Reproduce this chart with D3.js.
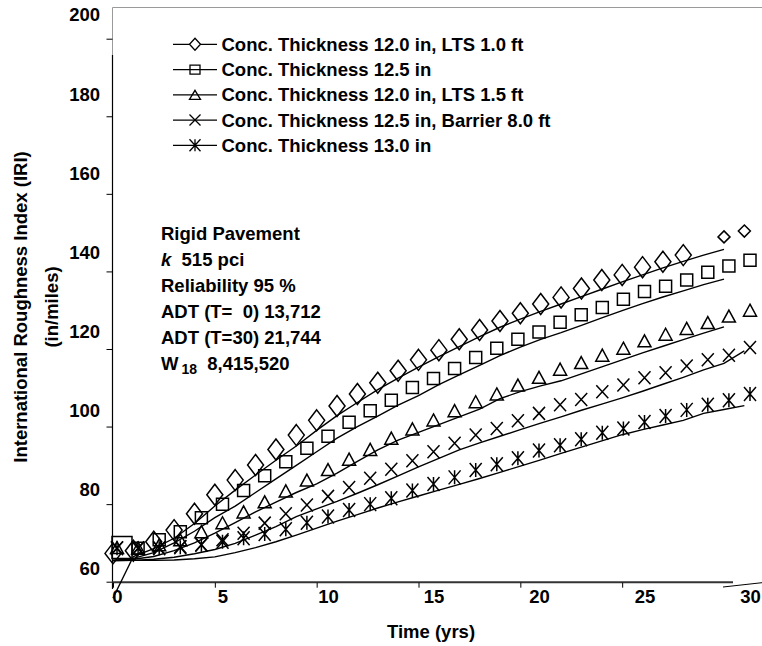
<!DOCTYPE html>
<html>
<head>
<meta charset="utf-8">
<script src="https://cdn.jsdelivr.net/npm/d3@7"></script>
<style>
  body { margin: 0; background: #fff; }
  svg text { font-family: "Liberation Sans", Arial, Helvetica, sans-serif; font-weight: bold; fill: #000; font-size: 18.5px; }
</style>
</head>
<body>
<svg id="chart" width="762" height="646"></svg>
<script>
// ---- data: IRI (in/mile) by pavement age (yrs) ----
const seriesNames = [
  "Conc. Thickness 12.0 in, LTS 1.0 ft",
  "Conc. Thickness 12.5 in",
  "Conc. Thickness 12.0 in, LTS 1.5 ft",
  "Conc. Thickness 12.5 in, Barrier 8.0 ft",
  "Conc. Thickness 13.0 in"
];

const years = d3.range(0, 31);                       // 0 .. 30
const yearsExt = d3.range(0, 32);                    // 0 .. 31
const diamondYears = [...d3.range(0, 29), 30, 31];

// plotted points
const diamondIRI = [67.3, 68.0, 70.3, 73.3, 77.5, 82.4, 86.2, 90.1, 94.1, 97.8, 101.6, 105.3, 108.4, 111.3, 114.4, 117.2,
  119.7, 122.5, 124.9, 127.2, 129.2, 131.6, 133.3, 135.6, 137.8, 139.1, 141.1, 142.5, 144.2, 148.9, 150.4];
const squareIRI = [68.8, 68.6, 70.8, 72.9, 76.5, 80.0, 83.5, 87.3, 90.9, 94.4, 97.5, 101.1, 104.1, 106.8, 110.1, 112.4,
  115.0, 117.8, 120.2, 122.5, 124.4, 126.9, 128.8, 130.7, 132.8, 134.8, 136.2, 137.8, 139.8, 141.4, 142.9];
const triangleIRI = [68.8, 68.7, 69.5, 70.8, 72.9, 75.2, 78.0, 80.6, 83.4, 86.2, 88.9, 91.6, 94.1, 97.0, 99.4, 101.7,
  104.1, 106.4, 108.4, 110.7, 112.7, 114.8, 116.5, 118.4, 120.2, 122.1, 123.8, 125.3, 126.8, 128.5, 130.0];
const crossIRI = [68.7, 68.6, 68.7, 69.0, 69.5, 70.8, 72.5, 75.1, 77.5, 79.8, 82.0, 84.3, 86.7, 89.0, 91.2, 93.5,
  95.7, 97.8, 99.5, 101.5, 103.4, 105.6, 107.0, 109.0, 110.7, 112.6, 113.9, 115.6, 117.2, 118.4, 120.4];
const starIRI = [68.6, 68.6, 68.6, 68.9, 69.5, 70.3, 71.2, 72.3, 73.5, 75.2, 76.8, 78.5, 80.0, 81.5, 83.5, 85.2,
  86.9, 88.8, 90.3, 91.8, 93.8, 95.2, 96.7, 98.4, 99.5, 101.2, 102.7, 104.3, 105.6, 106.8, 108.4];

// predicted curves
const diamondFit = [55.8, 66.5, 68.5, 71.2, 75.0, 79.5, 83.6, 87.5, 91.3, 95.0, 99.0, 102.8, 106.2, 109.5, 112.5, 115.3,
  118.0, 120.6, 123.2, 125.6, 127.7, 129.7, 131.6, 133.5, 135.4, 137.3, 139.1, 140.9, 142.6, 144.2, 145.7];
const squareFit = [65.5, 66.0, 67.5, 70.0, 73.0, 76.5, 79.5, 83.0, 86.5, 90.0, 93.5, 97.0, 100.0, 102.7, 105.5, 108.0,
  110.8, 113.3, 115.8, 118.3, 120.5, 122.5, 124.2, 126.1, 128.0, 129.9, 131.7, 133.4, 135.0, 136.6, 138.0];
const triangleFit = [65.5, 65.8, 66.5, 68.0, 70.0, 72.5, 75.2, 78.0, 80.5, 83.0, 85.2, 88.0, 91.0, 94.0, 96.5, 98.5,
  100.5, 102.5, 104.5, 107.2, 109.0, 110.5, 111.8, 113.6, 115.4, 117.2, 119.0, 120.7, 122.4, 124.1, 125.7];
const crossFit = [65.4, 65.5, 65.8, 66.3, 67.2, 68.3, 69.9, 72.0, 74.2, 76.8, 78.8, 80.7, 82.8, 85.0, 87.3, 89.6,
  91.8, 94.0, 95.8, 97.5, 99.2, 100.9, 102.5, 104.2, 105.8, 107.4, 109.1, 110.9, 112.7, 114.6, 116.3, 119.5];
const starFit = [65.5, 65.5, 65.5, 65.6, 65.9, 66.4, 67.5, 68.8, 70.3, 72.0, 73.8, 75.6, 77.3, 79.0, 80.6, 82.1,
  83.6, 85.1, 86.6, 88.2, 89.8, 91.4, 93.1, 94.7, 96.3, 97.9, 99.2, 100.4, 101.6, 103.4, 104.4, 105.4];

const xTicks = [0, 5, 10, 15, 20, 25, 30];
const yTicks = [60, 80, 100, 120, 140, 160, 180, 200];

const infoLines = ["Rigid Pavement", "k", "Reliability 95 %", "ADT (T=  0) 13,712", "ADT (T=30) 21,744", "W"];

// ---- scales ----
const x = d3.scaleLinear().domain([0, 30]).range([113, 724]);       // frame / curves
const y = d3.scaleLinear().domain([60, 200]).range([581.7, 38.7]);
const xMark = d3.scaleLinear().domain([0, 30]).range([117, 750]);   // point symbols and tick labels
const yText = d3.scaleLinear().domain([60, 200]).range([568.7, 15]);

const svg = d3.select("#chart");

// ---- frame ----
svg.append("line").attr("x1", 112.5).attr("x2", 762).attr("y1", 7.5).attr("y2", 7.5)
  .attr("stroke", "#9a9a9a").attr("stroke-width", 1);
svg.append("line").attr("x1", 112.5).attr("x2", 112.5).attr("y1", 7.5).attr("y2", 56)
  .attr("stroke", "#9a9a9a").attr("stroke-width", 1);
svg.append("line").attr("x1", 112.5).attr("x2", 112.5).attr("y1", 55).attr("y2", 589)
  .attr("stroke", "#000").attr("stroke-width", 1.2);
svg.append("line").attr("x1", 112).attr("x2", 733).attr("y1", y(60) + 0.5).attr("y2", y(60) + 0.5)
  .attr("stroke", "#333").attr("stroke-width", 2);
// short slanted end cap past the last tick
svg.append("line").attr("x1", x(30) - 1).attr("x2", 762).attr("y1", y(60) + 5.3).attr("y2", y(60) + 1)
  .attr("stroke", "#000").attr("stroke-width", 1);

// tick marks
const yTickAxis = svg.append("g").attr("transform", "translate(112.5,0)")
  .call(d3.axisLeft(y).tickValues(yTicks).tickSize(6).tickFormat(""));
yTickAxis.select(".domain").remove();
yTickAxis.selectAll("line").attr("stroke", "#000");

const xTickAxis = svg.append("g").attr("transform", `translate(0,${y(60) + 1})`)
  .call(d3.axisBottom(x).tickValues(xTicks.filter(t => t < 30)).tickSize(5).tickFormat(""));
xTickAxis.select(".domain").remove();
xTickAxis.selectAll("line").attr("stroke", "#000");

// tick labels
const yLab = svg.append("g").attr("transform", "translate(112.5,0)")
  .call(d3.axisLeft(yText).tickValues(yTicks).tickSize(0).tickPadding(12.5).tickFormat(d3.format("d")));
yLab.select(".domain").remove();
yLab.attr("font-size", null).attr("font-family", null);

const xLab = svg.append("g").attr("transform", `translate(0,${y(60)})`)
  .call(d3.axisBottom(xMark).tickValues(xTicks).tickSize(0).tickPadding(8).tickFormat(d3.format("d")));
xLab.select(".domain").remove();
xLab.attr("font-size", null).attr("font-family", null);

// axis titles
svg.append("text").attr("x", 431).attr("y", 637.5).attr("text-anchor", "middle").text("Time (yrs)");
svg.append("text").attr("transform", "translate(26.5,307) rotate(-90)").attr("text-anchor", "middle")
  .text("International Roughness Index (IRI)");
svg.append("text").attr("transform", "translate(58,307) rotate(-90)").attr("text-anchor", "middle")
  .text("(in/miles)");

// ---- symbols ----
const sym = {
  diamond: (w, h) => `M0,${-h / 2}L${w / 2},0L0,${h / 2}L${-w / 2},0Z`,
  square: (w, h) => `M${-w / 2},${-h / 2}h${w}v${h}h${-w}Z`,
  triangle: (w, h) => `M0,${-h / 2}L${w / 2},${h / 2}L${-w / 2},${h / 2}Z`,
  cross: (w, h) => `M${-w / 2},${-h / 2}L${w / 2},${h / 2}M${w / 2},${-h / 2}L${-w / 2},${h / 2}`,
  star: (w, h) => `M${-w / 2},${-h / 2}L${w / 2},${h / 2}M${w / 2},${-h / 2}L${-w / 2},${h / 2}M0,${-h / 2}V${h / 2}`
};

const series = [
  { shape: "diamond", t: diamondYears, v: diamondIRI, xs: x, size: [16, 21], fitT: years, fit: diamondFit },
  { shape: "square", t: years, v: squareIRI, xs: xMark, size: [12, 12], fitT: years, fit: squareFit },
  { shape: "triangle", t: years, v: triangleIRI, xs: xMark, size: [13, 12], fitT: years, fit: triangleFit },
  { shape: "cross", t: years, v: crossIRI, xs: xMark, size: [12, 13], fitT: yearsExt, fit: crossFit },
  { shape: "star", t: years, v: starIRI, xs: xMark, size: [12, 14], fitT: yearsExt, fit: starFit }
];

// symbol size: the opening square is drawn oversize, the trailing diamonds undersize
function symbolSize(s, d) {
  if (s.shape === "diamond" && d.t > 29) return [12, 12];
  if (s.shape === "square" && d.t === 0) return [20, 22];
  return s.size;
}

const line = d3.line().x(d => x(d[0])).y(d => y(d[1]));

series.forEach(s => {
  svg.append("path")
    .datum(s.fitT.map((t, i) => [t, s.fit[i]]))
    .attr("d", line)
    .attr("fill", "none").attr("stroke", "#000").attr("stroke-width", 1.4);
});

series.forEach(s => {
  svg.append("g").selectAll("path")
    .data(s.t.map((t, i) => ({ t, v: s.v[i] })))
    .join("path")
    .attr("transform", d => `translate(${s.xs(d.t) + (s.shape === "square" && d.t === 0 ? 5 : 0)},${y(d.v)})`)
    .attr("d", d => sym[s.shape](...symbolSize(s, d)))
    .attr("fill", "none").attr("stroke", "#000").attr("stroke-width", 1.5);
});

// ---- legend ----
const legend = svg.append("g");
const legendSize = { diamond: [11, 12], square: [10, 9], triangle: [11, 9], cross: [11, 11], star: [11, 12] };
series.forEach((s, i) => {
  const ly = 44.3 + i * 25.25;
  legend.append("line").attr("x1", 173).attr("x2", 217).attr("y1", ly).attr("y2", ly)
    .attr("stroke", "#000").attr("stroke-width", 1.3);
  legend.append("path").attr("transform", `translate(195,${ly})`)
    .attr("d", sym[s.shape](...legendSize[s.shape]))
    .attr("fill", s.shape === "diamond" ? "#fff" : "none")
    .attr("stroke", "#000").attr("stroke-width", 1.3);
  legend.append("text").attr("x", 221.5).attr("y", ly + 6.6).text(seriesNames[i]);
});

// ---- design inputs ----
const info = svg.append("g").attr("transform", "translate(161,0)");
const base = i => 239.5 + i * 26;
info.append("text").attr("y", base(0)).text(infoLines[0]);
const kt = info.append("text").attr("y", base(1)).style("white-space", "pre");
kt.append("tspan").style("font-style", "italic").text(infoLines[1]);
kt.append("tspan").text("  515 pci");
info.append("text").attr("y", base(2)).text(infoLines[2]);
info.append("text").attr("y", base(3)).style("white-space", "pre").text(infoLines[3]);
info.append("text").attr("y", base(4)).style("white-space", "pre").text(infoLines[4]);
const wt = info.append("text").attr("y", base(5)).style("white-space", "pre");
wt.append("tspan").text(infoLines[5]);
wt.append("tspan").attr("dy", 4.5).attr("dx", 3).style("font-size", "14px").text("18");
wt.append("tspan").attr("dy", -4.5).text("  8,415,520");
</script>
</body>
</html>
